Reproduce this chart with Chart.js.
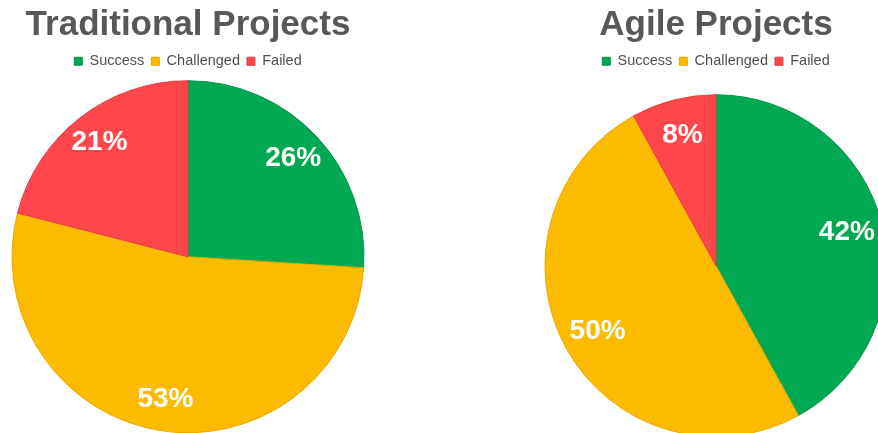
<!DOCTYPE html>
<html>
<head>
<meta charset="utf-8">
<title>Traditional vs Agile Projects</title>
<script src="https://cdn.jsdelivr.net/npm/chart.js@4.4.1/dist/chart.umd.min.js"></script>
<style>
  html, body { margin: 0; padding: 0; background: #fff; overflow: hidden; width: 878px; height: 433px; position: relative; }
  canvas { position: absolute; top: 0; }
  #traditional { left: 0; }
  #agile { left: 528px; }
</style>
</head>
<body>
<canvas id="traditional" width="376" height="435"></canvas>
<canvas id="agile" width="376" height="453"></canvas>
<script>
// outcome shares (%)
const outcomes = ['Success', 'Challenged', 'Failed'];
const traditionalShare = [26, 53, 21];
const agileShare = [42, 50, 8];

const sliceColors = ['#00a852', '#fdbb00', '#ff464b'];
const sliceEdges = ['#03964a', '#eaa700', '#e63d42'];
const fontFamily = '"Liberation Sans", Arial, Helvetica, sans-serif';

// white percentage text inside each slice
const sliceLabels = {
  id: 'sliceLabels',
  afterDatasetsDraw(chart, args, opts) {
    const ctx = chart.ctx;
    const values = chart.data.datasets[0].data;
    ctx.save();
    ctx.font = 'bold 28px ' + fontFamily;
    ctx.fillStyle = '#ffffff';
    ctx.textAlign = 'center';
    ctx.textBaseline = 'middle';
    chart.getDatasetMeta(0).data.forEach((arc, i) => {
      const p = arc.getProps(['x', 'y', 'startAngle', 'endAngle', 'outerRadius'], true);
      const mid = (p.startAngle + p.endAngle) / 2;
      const r = p.outerRadius * opts.distance;
      ctx.fillText(values[i] + '%', p.x + Math.cos(mid) * r, p.y + Math.sin(mid) * r);
    });
    ctx.restore();
  }
};

function makePie(id, title, values, radius, labelDistance) {
  new Chart(document.getElementById(id), {
    type: 'pie',
    data: {
      labels: outcomes,
      datasets: [{
        data: values,
        backgroundColor: sliceColors,
        borderColor: sliceEdges,
        borderWidth: 1
      }]
    },
    options: {
      responsive: false,
      animation: false,
      radius: radius,
      layout: { padding: 0 },
      plugins: {
        title: {
          display: true,
          text: title,
          color: '#58585a',
          font: { family: fontFamily, size: 35, weight: 'bold' },
          padding: { top: 4, bottom: 1 }
        },
        legend: {
          position: 'top',
          labels: {
            color: '#505050',
            font: { family: fontFamily, size: 14.5 },
            boxWidth: 8,
            boxHeight: 8,
            padding: 7
          }
        },
        tooltip: { enabled: false },
        sliceLabels: { distance: labelDistance }
      }
    },
    plugins: [sliceLabels]
  });
}

makePie('traditional', 'Traditional Projects', traditionalShare, 176, 0.82);
makePie('agile', 'Agile Projects', agileShare, 171, 0.79);
</script>
</body>
</html>
